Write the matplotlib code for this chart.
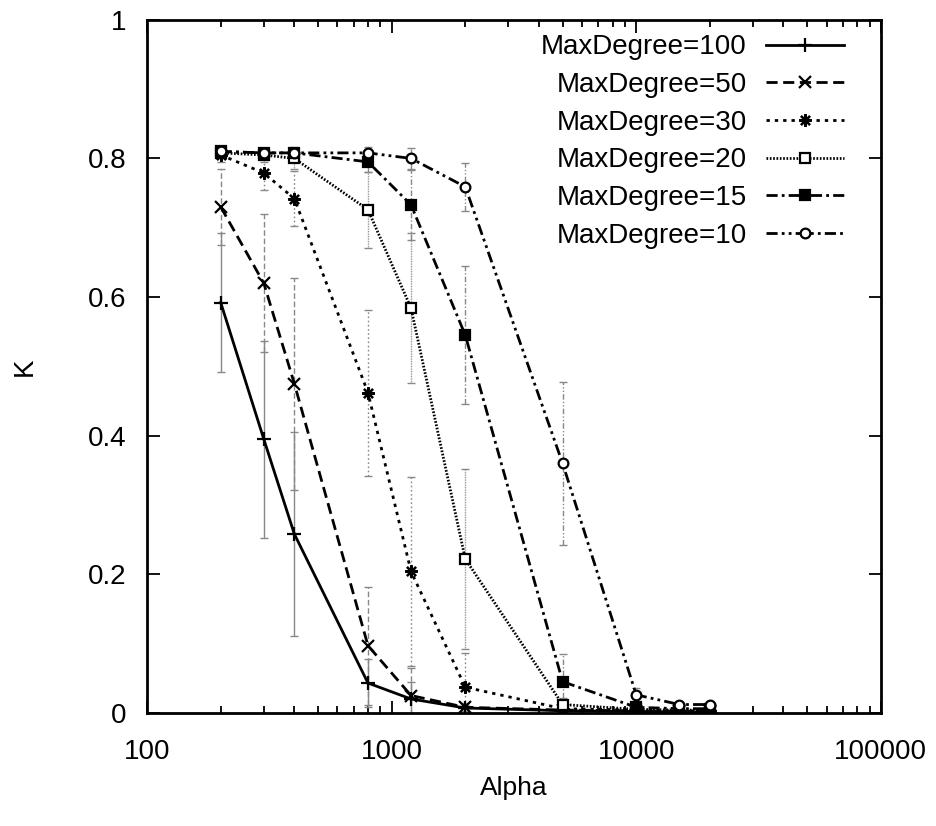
import matplotlib
matplotlib.use("Agg")
import matplotlib.pyplot as plt
from matplotlib.ticker import FixedLocator, FixedFormatter, NullFormatter, LogLocator

plt.rcParams['font.family'] = ['Liberation Sans', 'DejaVu Sans']

alpha = [200, 300, 400, 800, 1200, 2000, 5000, 10000, 15000, 20000]

labels = ["MaxDegree=100", "MaxDegree=50", "MaxDegree=30",
          "MaxDegree=20", "MaxDegree=15", "MaxDegree=10"]

k_100 = [0.592, 0.395, 0.258, 0.043, 0.020, 0.007, 0.003, 0.002, 0.001, 0.001]
k_50 = [0.730, 0.620, 0.475, 0.097, 0.025, 0.008, 0.004, 0.003, 0.002, 0.002]
k_30 = [0.805, 0.779, 0.742, 0.462, 0.204, 0.037, 0.006, 0.004, 0.003, 0.003]
k_20 = [0.808, 0.805, 0.800, 0.726, 0.584, 0.222, 0.012, 0.005, 0.004, 0.004]
k_15 = [0.810, 0.808, 0.808, 0.795, 0.733, 0.545, 0.045, 0.008, 0.006, 0.006]
k_10 = [0.810, 0.808, 0.808, 0.808, 0.800, 0.759, 0.360, 0.026, 0.012, 0.012]

err_100 = [0.100, 0.142, 0.147, 0.035, 0.025, 0.005, 0.002, 0.001, 0.001, 0.001]
err_50 = [0.055, 0.100, 0.153, 0.085, 0.040, 0.006, 0.003, 0.002, 0.001, 0.001]
err_30 = [0.010, 0.025, 0.040, 0.120, 0.137, 0.050, 0.004, 0.002, 0.002, 0.002]
err_20 = [0.005, 0.010, 0.015, 0.055, 0.108, 0.130, 0.010, 0.003, 0.002, 0.002]
err_15 = [0.005, 0.005, 0.008, 0.015, 0.050, 0.100, 0.040, 0.005, 0.003, 0.003]
err_10 = [0.005, 0.005, 0.005, 0.008, 0.015, 0.035, 0.118, 0.010, 0.004, 0.004]

series = [k_100, k_50, k_30, k_20, k_15, k_10]
errors = [err_100, err_50, err_30, err_20, err_15, err_10]

styles = [
    dict(ls='-', marker='+', mfc='black', ms=10),
    dict(ls=(0, (4, 2)), marker='x', mfc='black', ms=8),
    dict(ls=(0, (1.2, 1.8)), marker=(8, 2, 0), mfc='black', ms=9),
    dict(ls=(0, (0.6, 0.6)), marker='s', mfc='white', ms=7),
    dict(ls=(0, (4, 1.5, 1, 1.5)), marker='s', mfc='black', ms=7),
    dict(ls=(0, (4, 1.5, 1, 1.5, 1, 1.5)), marker='o', mfc='white', ms=7),
]

fig = plt.figure(figsize=(9.37, 8.26), dpi=100)
ax = fig.add_axes([0.157, 0.137, 0.783, 0.839])

for k, e, st in zip(series, errors, styles):
    eb = ax.errorbar(alpha, k, yerr=e, fmt='none', ecolor='#888888',
                     elinewidth=1.0, capsize=3, capthick=1.0, zorder=2)
    eb[2][0].set_linestyle(st['ls'])

for k, lab, st in zip(series, labels, styles):
    ax.plot(alpha, k, color='black', lw=2.0, ls=st['ls'], marker=st['marker'],
            ms=st['ms'], mfc=st['mfc'], mec='black', mew=1.6,
            label=lab, zorder=3)

ax.set_xscale('log')
ax.set_xlim(100, 100000)
ax.set_ylim(0, 1)

ax.xaxis.set_major_locator(FixedLocator([100, 1000, 10000, 100000]))
ax.xaxis.set_major_formatter(FixedFormatter(["100", "1000", "10000", "100000"]))
ax.xaxis.set_minor_locator(LogLocator(base=10, subs=range(2, 10)))
ax.xaxis.set_minor_formatter(NullFormatter())
ax.yaxis.set_major_locator(FixedLocator([0, 0.2, 0.4, 0.6, 0.8, 1.0]))
ax.yaxis.set_major_formatter(FixedFormatter(["0", "0.2", "0.4", "0.6", "0.8", "1"]))

ax.tick_params(which='both', direction='in', top=True, right=True,
               width=1.3, labelsize=20)
ax.tick_params(axis='x', pad=19)
ax.tick_params(axis='y', pad=15)
ax.tick_params(which='major', length=9)
ax.tick_params(which='minor', length=5)
for sp in ax.spines.values():
    sp.set_linewidth(2.0)

ax.set_xlabel("Alpha", fontsize=19, labelpad=8)
ax.set_ylabel("K", fontsize=20, labelpad=36)

ax.legend(loc='upper right', bbox_to_anchor=(0.965, 0.995), frameon=False,
          markerfirst=False, fontsize=20, handlelength=2.8, handletextpad=0.7,
          labelspacing=0.42, borderaxespad=0, numpoints=1)

fig.savefig("out.png", dpi=100)
